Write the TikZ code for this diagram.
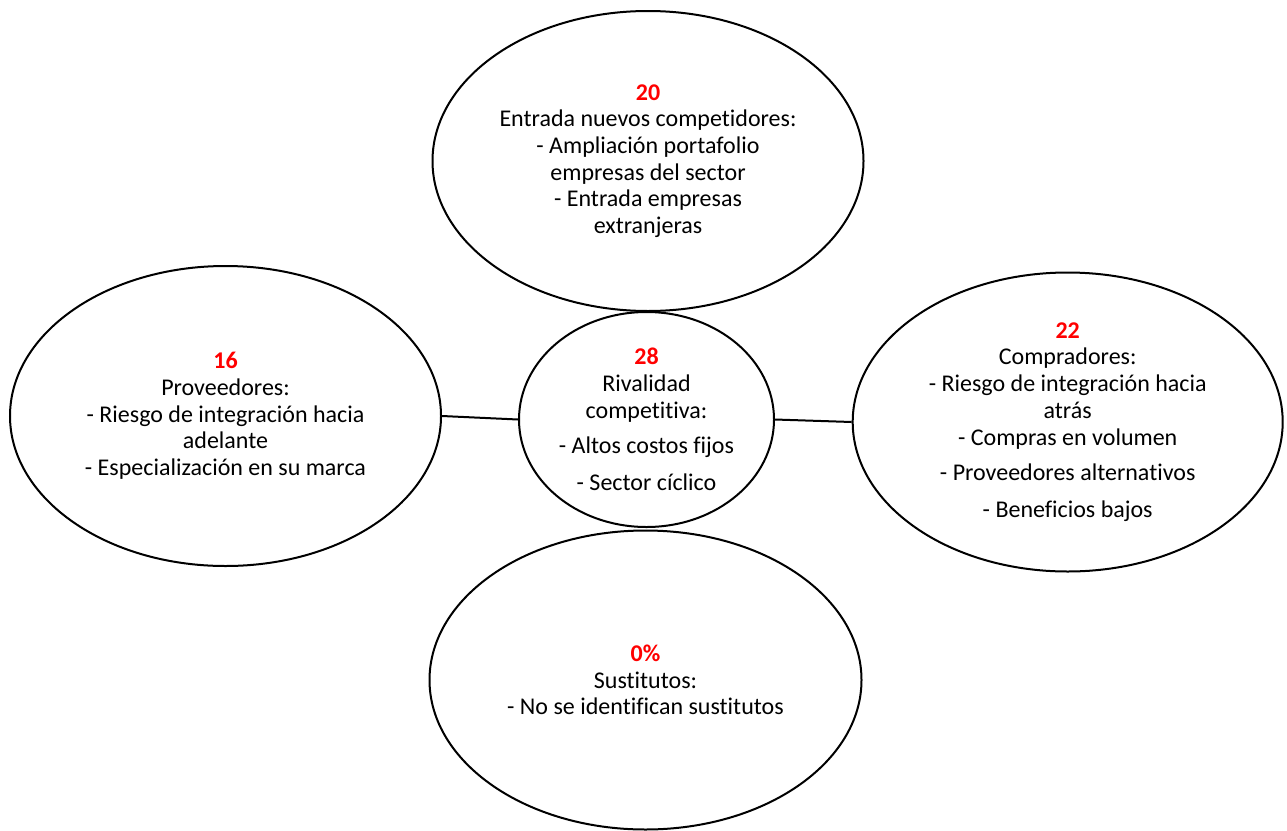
\documentclass[tikz,border=0pt]{standalone}
\usepackage{fontspec}
\setmainfont{Carlito}[Ligatures=NoCommon]
\usetikzlibrary{shapes.geometric}
\definecolor{numred}{RGB}{255,0,0}
\newcommand{\score}[1]{\textcolor{numred}{\bfseries #1}}
\tikzset{
  force/.style={draw=black, line width=2pt, ellipse, inner sep=0pt,
    align=center, font=\fontsize{24}{26.7}\selectfont},
  link/.style={draw=black, line width=2pt},
}
\begin{document}
\begin{tikzpicture}[x=1pt, y=-1pt]
  \useasboundingbox (0,0) rectangle (1287,830);

  % the five forces
  \node[force, minimum width=431pt, minimum height=300pt] (entry) at (648,161)
    {\score{20}\\Entrada nuevos competidores:\\- Ampliación portafolio\\empresas del sector\\- Entrada empresas\\extranjeras};
  \node[force, minimum width=431pt, minimum height=300pt] (suppliers) at (225.5,416)
    {\score{16}\\Proveedores:\\- Riesgo de integración hacia\\adelante\\- Especialización en su marca};
  \node[force, minimum width=255pt, minimum height=215pt] (rivalry) at (646.5,419.5)
    {\score{28}\\Rivalidad\\competitiva:\\[9pt]- Altos costos fijos\\[10pt]- Sector cíclico};
  \node[force, minimum width=430pt, minimum height=299pt] (buyers) at (1067.7,422)
    {\score{22}\\Compradores:\\- Riesgo de integración hacia\\atrás\\- Compras en volumen\\[9pt]- Proveedores alternativos\\[10pt]- Beneficios bajos};
  \node[force, minimum width=432pt, minimum height=299pt] (subst) at (645.5,680)
    {\score{0\%}\\Sustitutos:\\- No se identifican sustitutos};

  % connectors
  \draw[link] (suppliers.east) -- (rivalry.west);
  \draw[link] (rivalry.east) -- (buyers.west);
\end{tikzpicture}
\end{document}
